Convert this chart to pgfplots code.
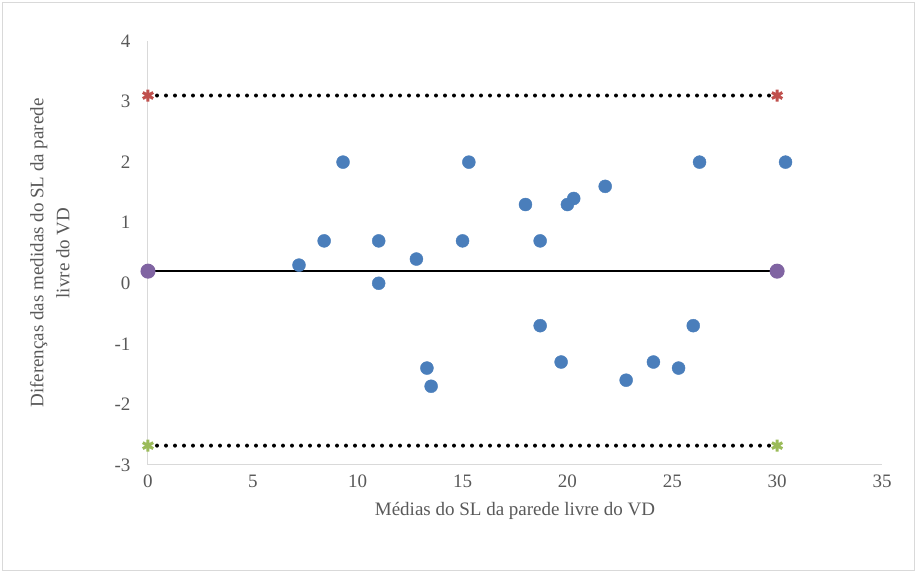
\documentclass[border=0pt]{standalone}
\usepackage{fontspec}
\setmainfont{Liberation Serif}
\usepackage{pgfplots}
\pgfplotsset{compat=1.18}
\definecolor{ax}{RGB}{217,217,217}
\definecolor{tl}{RGB}{89,89,89}
\definecolor{bl}{RGB}{74,126,187}
\definecolor{rd}{RGB}{192,80,77}
\definecolor{gr}{RGB}{155,187,89}
\definecolor{pu}{RGB}{128,100,162}
\begin{document}
\begin{tikzpicture}[x=1pt,y=1pt]
\useasboundingbox (-148,-107) rectangle (768,465);
\draw[ax] (-146,-105) rectangle (766,463);
\begin{axis}[at={(0,0)},anchor=south west,scale only axis,width=734pt,height=424pt,
 xmin=0,xmax=35,ymin=-3,ymax=4,
 xtick={0,5,...,35},ytick={-3,...,4},
 axis x line=bottom, axis y line=left,
 axis line style={ax,-,line width=1pt},
 tick style={draw=none},
 xtick pos=bottom,
 ticklabel style={tl,font=\fontsize{19}{21}\selectfont},
 xticklabel style={yshift=-4pt},
 yticklabel style={xshift=-12pt},
 /pgf/number format/assume math mode=true,
 xlabel={Médias do SL da parede livre do VD},
 ylabel={Diferenças das medidas do SL da parede\\livre do VD},
 ylabel style={align=center,tl,font=\fontsize{19}{26}\selectfont,yshift=38pt},
 xlabel style={tl,font=\fontsize{19}{21}\selectfont,yshift=-8pt},
 clip=false]
\addplot[only marks,mark=*,mark size=6.5pt,bl] coordinates {
(7.2,0.3)(8.4,0.7)(9.3,2.0)(11.0,0.7)(11.0,0)(12.8,0.4)(13.3,-1.4)(13.5,-1.7)
(15.0,0.7)(15.3,2.0)(18.0,1.3)(18.7,0.7)(18.7,-0.7)(19.7,-1.3)(20.0,1.3)
(20.3,1.4)(21.8,1.6)(22.8,-1.6)(24.1,-1.3)(25.3,-1.4)(26.0,-0.7)(26.3,2.0)(30.4,2.0)};
\addplot[black,line width=2pt,mark=*,mark size=6.5pt,mark options={pu,fill=pu}] coordinates {(0,0.2)(30,0.2)};
\addplot[black,line width=4pt,line cap=round,dash pattern=on 0pt off 9pt,mark=asterisk,mark size=6pt,mark options={rd,solid,line width=3pt,line cap=butt}] coordinates {(0,3.1)(30,3.1)};
\addplot[black,line width=4pt,line cap=round,dash pattern=on 0pt off 9pt,mark=asterisk,mark size=6pt,mark options={gr,solid,line width=3pt,line cap=butt}] coordinates {(0,-2.68)(30,-2.68)};
\end{axis}
\end{tikzpicture}
\end{document}
